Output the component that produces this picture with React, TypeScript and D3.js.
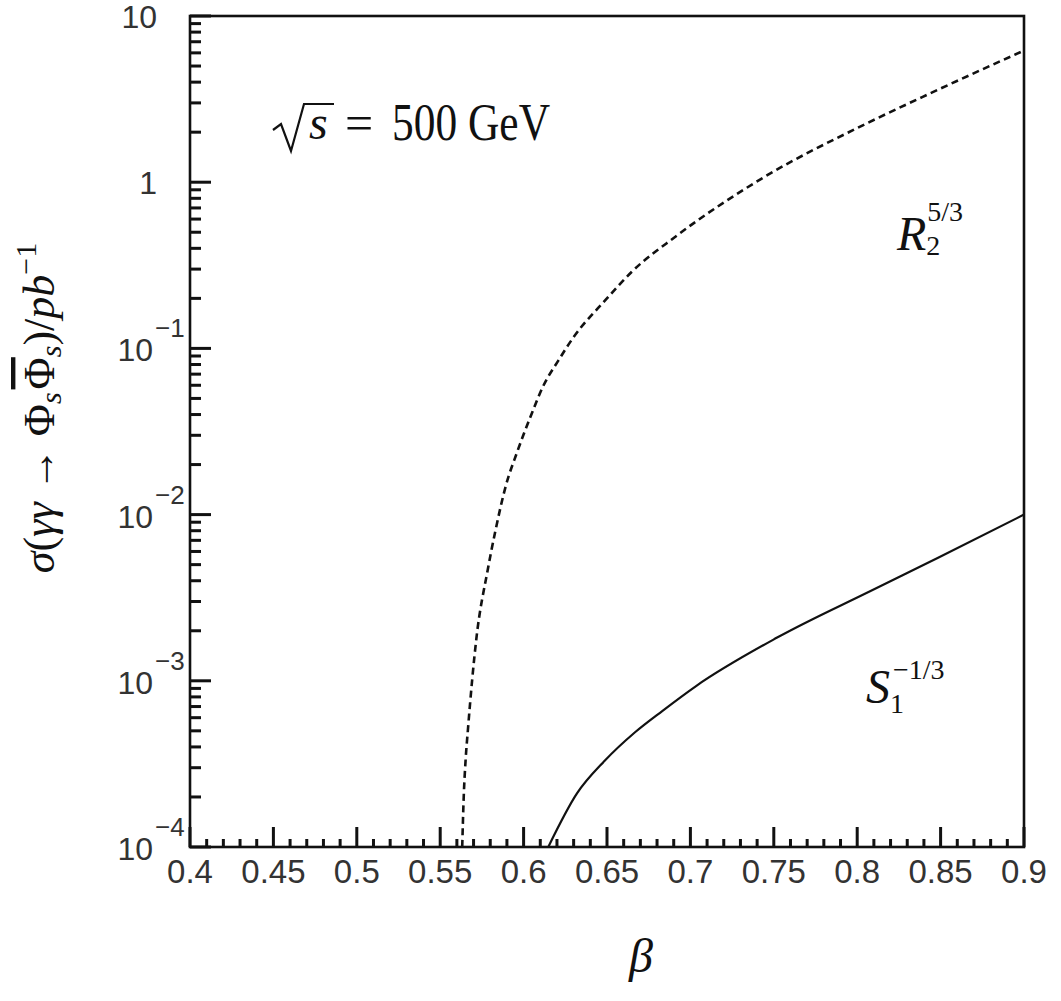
import * as d3 from 'd3'

// beta axis labels
const betaMajor = [0.4, 0.45, 0.5, 0.55, 0.6, 0.65, 0.7, 0.75, 0.8, 0.85, 0.9]
const betaLabels = ['0.4', '0.45', '0.5', '0.55', '0.6', '0.65', '0.7', '0.75', '0.8', '0.85', '0.9']
// decades on the cross-section axis
const decadeExp = [-4, -3, -2, -1, 0, 1]

// R_2^{5/3} (dashed)
const r2Beta = [0.5632, 0.5641, 0.5652, 0.5667, 0.5717, 0.5784, 0.583, 0.5895, 0.596, 0.604, 0.612, 0.621, 0.63, 0.649, 0.665, 0.691, 0.744, 0.805, 0.845, 0.9]
const r2Sigma = [1e-4, 2e-4, 3.3e-4, 5.2e-4, 1.8e-3, 4.6e-3, 7.9e-3, 0.0151, 0.0236, 0.0385, 0.06, 0.085, 0.117, 0.195, 0.29, 0.47, 1.07, 2.24, 3.47, 6.2]

// S_1^{-1/3} (solid)
const s1Beta = [0.6148, 0.632, 0.6486, 0.6668, 0.6833, 0.7034, 0.752, 0.808, 0.8485, 0.9]
const s1Sigma = [1e-4, 2.1e-4, 3.3e-4, 4.9e-4, 6.6e-4, 9.3e-4, 1.82e-3, 3.47e-3, 5.5e-3, 1.0e-2]

const W = 1061
const H = 1001
const mLeft = 190
const mRight = 1024
const mTop = 16
const mBottom = 847

const serif = '"Liberation Serif", "DejaVu Serif", serif'
const sans = '"Liberation Sans", Arial, sans-serif'

export default function App() {
  const x = d3.scaleLinear().domain([0.4, 0.9]).range([mLeft, mRight])
  const y = d3.scaleLog().domain([1e-4, 10]).range([mBottom, mTop])

  const curve = d3
    .line<[number, number]>()
    .x((d) => x(d[0]))
    .y((d) => y(d[1]))
    .curve(d3.curveMonotoneX)

  const r2 = r2Beta.map((b, i) => [b, r2Sigma[i]] as [number, number])
  const s1 = s1Beta.map((b, i) => [b, s1Sigma[i]] as [number, number])

  const isMajorX = (v: number) => betaMajor.some((m) => Math.abs(m - v) < 1e-6)
  const isMajorY = (v: number) => Math.abs(Math.log10(v) - Math.round(Math.log10(v))) < 1e-6

  const xt = x.ticks(50)
  const yt = y.ticks()

  return (
    <svg width={W} height={H} style={{ position: 'absolute', left: 0, top: 0, background: '#fff' }}>
      <rect x={0} y={0} width={W} height={H} fill="#fff" />

      {/* curves */}
      <path d={curve(r2) ?? ''} fill="none" stroke="#111" strokeWidth={2.6} strokeDasharray="7 4.5" />
      <path d={curve(s1) ?? ''} fill="none" stroke="#111" strokeWidth={2.2} />

      {/* frame */}
      <rect x={mLeft} y={mTop} width={mRight - mLeft} height={mBottom - mTop} fill="none" stroke="#111" strokeWidth={2.6} />

      {/* ticks, pointing inward */}
      <g>
        {xt.map((v, i) => (
          <rect key={'xt' + i} x={x(v) - 1.5} y={mBottom - (isMajorX(v) ? 20 : 8)} width={3} height={isMajorX(v) ? 20 : 8} fill="#111" />
        ))}
        {yt.map((v, i) => (
          <rect key={'yt' + i} x={mLeft} y={y(v) - 1.5} width={isMajorY(v) ? 21 : 11} height={3} fill="#111" />
        ))}
      </g>

      {/* x tick labels */}
      {betaMajor.map((v, i) => (
        <text key={'xl' + i} x={x(v)} y={mBottom + 36} textAnchor="middle" fontFamily={sans} fontSize={33} fill="#333">
          {betaLabels[i]}
        </text>
      ))}

      {/* y tick labels */}
      {decadeExp.map((e) => {
        const yy = y(Math.pow(10, e))
        if (e === 1 || e === 0) {
          return (
            <text key={'yl' + e} x={mLeft - 33} y={yy + 12} textAnchor="end" fontFamily={sans} fontSize={32} fill="#333">
              {e === 1 ? '10' : '1'}
            </text>
          )
        }
        return (
          <g key={'yl' + e}>
            <text x={mLeft - 37} y={yy + 13} textAnchor="end" fontFamily={sans} fontSize={32} fill="#333">
              10
            </text>
            <text x={mLeft - 35} y={yy - 11} textAnchor="start" fontFamily={sans} fontSize={26} fill="#333">
              {'\u2212' + Math.abs(e)}
            </text>
          </g>
        )
      })}

      {/* sqrt(s) = 500 GeV */}
      <path d="M273,130 L281,124 L291,151 L304,104 L334,104" fill="none" stroke="#111" strokeWidth={2.2} />
      <text x={309} y={139} fontFamily={serif} fontStyle="italic" fontSize={48} fill="#111">s</text>
      <text x={345} y={140} fontFamily={serif} fontSize={50} fill="#111">=</text>
      <text x={392} y={140} fontFamily={serif} fontSize={52} fill="#111" textLength={158} lengthAdjust="spacingAndGlyphs">
        500 GeV
      </text>

      {/* curve labels */}
      <text x={897} y={250} fontFamily={serif} fontStyle="italic" fontSize={48} fill="#111">
        R
        <tspan fontStyle="normal" fontSize={28} dy={5}>2</tspan>
        <tspan fontStyle="normal" fontSize={28} dx={-13} dy={-34}>5/3</tspan>
      </text>
      <text x={866} y={703} fontFamily={serif} fontStyle="italic" fontSize={48} fill="#111">
        S
        <tspan fontStyle="normal" fontSize={28} dy={10}>1</tspan>
        <tspan fontStyle="normal" fontSize={28} dx={-11} dy={-34}>{'\u22121/3'}</tspan>
      </text>

      {/* axis titles */}
      <text transform="translate(54,408) rotate(-90)" textAnchor="middle" fontFamily={serif} fontSize={44} fill="#111">
        <tspan fontStyle="italic">σ</tspan>
        <tspan>(</tspan>
        <tspan fontStyle="italic">γγ</tspan>
        <tspan>{' \u2192 Φ'}</tspan>
        <tspan fontStyle="italic" fontSize={30} dy={7}>s</tspan>
        <tspan dy={-7} dx={3} style={{ textDecoration: 'overline' }}>Φ</tspan>
        <tspan fontStyle="italic" fontSize={30} dy={7}>s</tspan>
        <tspan dy={-7}>)/</tspan>
        <tspan fontStyle="italic">pb</tspan>
        <tspan fontSize={30} dy={-18}>{'\u22121'}</tspan>
      </text>
      <text x={641} y={972} textAnchor="middle" fontFamily={serif} fontStyle="italic" fontSize={48} fill="#111">
        β
      </text>
    </svg>
  )
}
